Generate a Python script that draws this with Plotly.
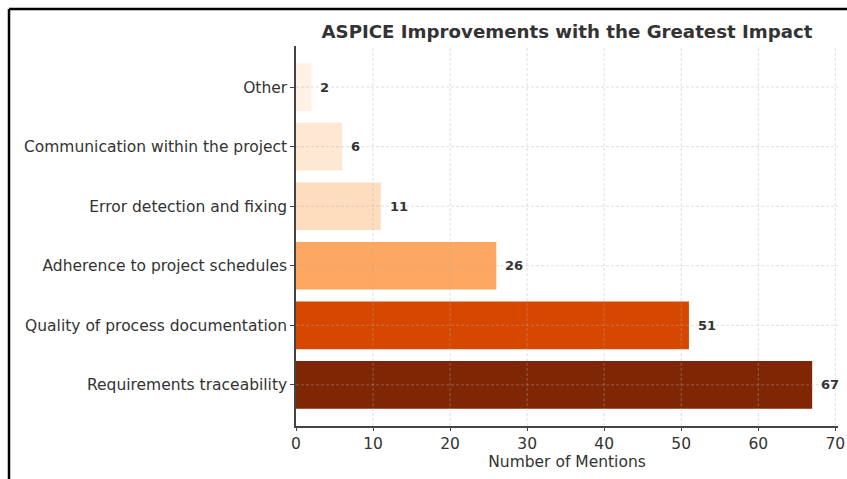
import plotly.graph_objects as go

categories = ["Requirements traceability", "Quality of process documentation",
              "Adherence to project schedules", "Error detection and fixing",
              "Communication within the project", "Other"]
mentions = [67, 51, 26, 11, 6, 2]
bar_colors = ["#7f2704", "#d64701", "#fda762", "#fdddbd", "#fee8d3", "#fff1e4"]
x_ticks = [0, 10, 20, 30, 40, 50, 60, 70]

W, H = 847, 479
L, R, T, B = 296, 9, 46, 53
pw, ph = W - L - R, H - T - B

fig = go.Figure()
fig.add_trace(go.Bar(
    y=categories, x=mentions, orientation="h",
    marker=dict(color=bar_colors, line=dict(width=0)),
    width=0.8, hoverinfo="skip",
))

for c, v in zip(categories, mentions):
    fig.add_annotation(x=v + 0.9, y=c, text=f"<b>{v}</b>", showarrow=False,
                       xanchor="left", yanchor="middle",
                       font=dict(family="DejaVu Sans", size=13, color="#333333"))

shapes = []
grid = dict(color="rgba(175,175,175,0.5)", width=0.8, dash="3px,2px")
for t in x_ticks[1:]:
    shapes.append(dict(type="line", xref="x", yref="paper", x0=t, x1=t, y0=0, y1=1,
                       line=grid, layer="above"))
for i in range(len(categories)):
    shapes.append(dict(type="line", xref="paper", yref="y", x0=0, x1=1, y0=i, y1=i,
                       line=grid, layer="above"))
# outer frame
fx = (9 - L) / pw
fy = 1 + (T - 9) / ph
shapes.append(dict(type="line", xref="paper", yref="paper", x0=fx, x1=(W + 5 - L) / pw,
                   y0=fy, y1=fy, line=dict(color="black", width=2.5)))
shapes.append(dict(type="line", xref="paper", yref="paper", x0=fx, x1=fx,
                   y0=fy, y1=-(B + 5) / ph, line=dict(color="black", width=2.5)))

fig.update_layout(
    width=W, height=H,
    margin=dict(l=L, r=R, t=T, b=B, autoexpand=False),
    paper_bgcolor="white", plot_bgcolor="white",
    showlegend=False,
    bargap=0.2,
    shapes=shapes,
    title=dict(text="<b>ASPICE Improvements with the Greatest Impact</b>",
               x=(567) / W, xanchor="center", y=1 - 32 / H, yanchor="middle",
               font=dict(family="DejaVu Sans", size=18.2, color="#333333")),
    font=dict(family="DejaVu Sans", color="#333333"),
    xaxis=dict(range=[0, 70.35], tickvals=x_ticks, ticktext=[str(t) for t in x_ticks],
               showgrid=False, zeroline=False, automargin=False,
               showline=True, linecolor="#444444", linewidth=1.5,
               ticks="outside", ticklen=3, tickcolor="#444444",
               tickfont=dict(size=15.5, color="#333333"),
               title=dict(text="Number of Mentions", font=dict(size=15.5, color="#333333"),
                          standoff=3)),
    yaxis=dict(range=[-0.69, 5.69], showgrid=False, zeroline=False, automargin=False,
               showline=True, linecolor="#444444", linewidth=1.5,
               ticks="outside", ticklen=4, tickcolor="#444444",
               tickfont=dict(size=15.5, color="#333333")),
)

fig.write_html("out.html", config={"displayModeBar": False},
               post_script="document.body.style.margin='0';document.body.style.overflow='hidden';")
